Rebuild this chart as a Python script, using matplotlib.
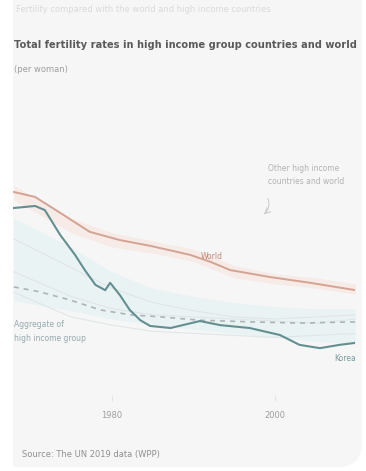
import numpy as np
import matplotlib
matplotlib.use('Agg')
import matplotlib.pyplot as plt
from matplotlib.patches import FancyBboxPatch, Rectangle

# total fertility rate, births per woman
Year_World = [1968, 1970.6, 1973.7, 1977.3, 1981.0, 1984.7, 1989.6, 1992.1, 1994.5, 1999.4, 2004.3, 2009.9]
TFR_World = [4.94, 4.82, 4.43, 3.97, 3.77, 3.63, 3.41, 3.24, 3.04, 2.87, 2.73, 2.55]

Year_Korea = [1968, 1970.6, 1971.8, 1973.7, 1975.5, 1976.7, 1978.0, 1979.2, 1979.8, 1981.0, 1982.2,
              1983.5, 1984.7, 1987.2, 1990.8, 1993.3, 1996.9, 2000.6, 2003.0, 2005.5, 2007.9, 2009.9]
TFR_Korea = [4.55, 4.60, 4.50, 3.89, 3.41, 3.04, 2.68, 2.55, 2.73, 2.43, 2.07,
             1.82, 1.68, 1.63, 1.80, 1.70, 1.63, 1.46, 1.22, 1.14, 1.22, 1.27]

Year_HI = [1968, 1971.2, 1974.9, 1978.6, 1982.3, 1986.0, 1990.8, 1996.9, 2003.1, 2009.9]
TFR_HI = [2.63, 2.51, 2.31, 2.07, 1.95, 1.90, 1.82, 1.78, 1.75, 1.78]

# band of the other high income countries
Year_Band = [1968, 1975, 1980, 1985, 1990, 1995, 2000, 2005, 2010]
Band_Lo = [2.30, 2.05, 1.85, 1.70, 1.60, 1.50, 1.40, 1.30, 1.25]
Band_Hi = [4.30, 3.60, 3.00, 2.60, 2.40, 2.25, 2.15, 2.10, 2.10]
World_Lo = [4.75, 3.95, 3.60, 3.45, 3.25, 2.85, 2.70, 2.60, 2.45]
World_Hi = [5.10, 4.30, 3.95, 3.75, 3.55, 3.15, 2.95, 2.85, 2.70]

# a few faint lines for single countries
Year_Other = [1968, 1975, 1980, 1985, 1990, 1995, 2000, 2005, 2010]
Other_1 = [3.00, 2.40, 2.10, 1.95, 1.90, 1.85, 1.80, 1.75, 1.85]
Other_2 = [2.50, 1.90, 1.70, 1.55, 1.50, 1.45, 1.40, 1.45, 1.50]
Other_3 = [3.80, 3.10, 2.60, 2.25, 2.05, 1.90, 1.85, 1.90, 1.95]

Ticks = [1980, 2000]

W, H = 366, 471
fig = plt.figure(figsize=(W/100, H/100), dpi=100)
fig.patch.set_facecolor('white')

# background panel in pixel coords
bg = fig.add_axes([0, 0, 1, 1])
bg.set_xlim(0, W)
bg.set_ylim(H, 0)
bg.axis('off')
bg.add_patch(FancyBboxPatch((-40, -40), 402, 507, boxstyle='round,pad=0,rounding_size=24',
                            fc='#f6f6f6', ec='none'))
bg.add_patch(Rectangle((0, 0), 13, H, fc='white', ec='none'))

bg.text(16, 10, 'Fertility compared with the world and high income countries',
        fontsize=6, color='#dadada', va='center')
bg.text(14, 45, 'Total fertility rates in high income group countries and world',
        fontsize=7.1, fontweight='bold', color='#5a5a5a', va='center')
bg.text(14, 70, '(per woman)', fontsize=6, color='#9e9e9e', va='center')
bg.text(112, 415, '1980', fontsize=6, color='#9e9e9e', ha='center', va='center')
bg.text(275, 415, '2000', fontsize=6, color='#9e9e9e', ha='center', va='center')
bg.text(22, 455, 'Source: The UN 2019 data (WPP)', fontsize=6, color='#909090', va='center')

ax = fig.add_axes([13/W, (H-395)/H, (355-13)/W, 300/H])
ax.set_facecolor('none')
ax.set_xlim(1967.9, 2009.8)
ax.set_ylim(0, 7.3)
for s in ax.spines.values():
    s.set_visible(False)
ax.set_xticks(Ticks)
ax.set_xticklabels([])
ax.tick_params(axis='x', length=4, color='#e4e4e4')
ax.set_yticks([])

ax.fill_between(Year_Band, Band_Lo, Band_Hi, color='#e9f3f4', lw=0, zorder=1)
ax.fill_between(Year_Band, World_Lo, World_Hi, color='#f7ebe7', lw=0, zorder=1)
for o in (Other_1, Other_2, Other_3):
    ax.plot(Year_Other, o, color='#e0e6e7', lw=0.8, zorder=2)

ax.plot(Year_HI, TFR_HI, color='#acb4b6', lw=1.2, ls=(0, (3, 3)), zorder=3)
ax.plot(Year_World, TFR_World, color='#d3a393', lw=1.4, zorder=4)
ax.plot(Year_Korea, TFR_Korea, color='#648f91', lw=1.5, zorder=5)

ax.text(1992.2, 3.37, 'World', fontsize=5.5, color='#c4887a', ha='center', va='center')
ax.text(1999.1, 5.35, 'Other high income\ncountries and world', fontsize=5.5, color='#b2b2b2',
        va='center', linespacing=1.6)
ax.annotate('', xy=(1998.4, 4.35), xytext=(1999.0, 4.85),
            arrowprops=dict(arrowstyle='->', color='#c8c8c8', lw=0.7,
                            connectionstyle='arc3,rad=-0.4'))
ax.text(1968.0, 1.55, 'Aggregate of\nhigh income group', fontsize=5.5, color='#95aaad',
        va='center', linespacing=1.7)
ax.text(2007.2, 0.9, 'Korea', fontsize=5.5, color='#7a9a9c', va='center')

fig.savefig('out.png', dpi=100, facecolor=fig.get_facecolor())
